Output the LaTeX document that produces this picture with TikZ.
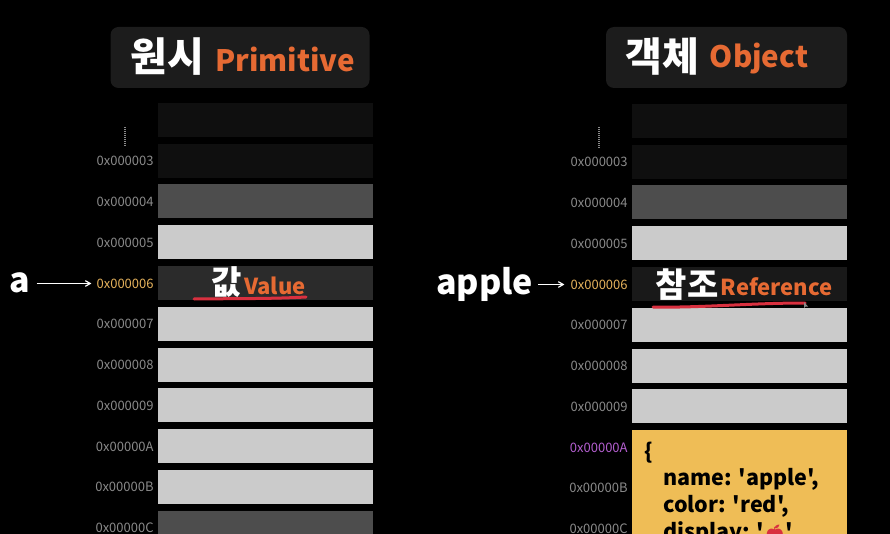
\documentclass[tikz,border=0pt]{standalone}
\usepackage{fontspec}
\setmainfont{Noto Sans CJK KR}
\newfontfamily\codefont{Noto Sans CJK KR}
\newfontfamily\emojifont{Noto Emoji}
\usepackage{tikz}
\usetikzlibrary{arrows,positioning}
\definecolor{bkg}{HTML}{000000}
\definecolor{titlebkg}{HTML}{1C1C1C}
\definecolor{cellnone}{HTML}{0F0F0F}
\definecolor{cellmid}{HTML}{4D4D4D}
\definecolor{cellfree}{HTML}{CBCBCB}
\definecolor{orangetxt}{HTML}{E66A33}
\definecolor{addrgrey}{HTML}{8A8A8A}
\definecolor{addrhot}{HTML}{E5B25C}
\definecolor{addrobj}{HTML}{B45FD0}
\definecolor{objbox}{HTML}{EFBD56}
\definecolor{penred}{HTML}{D9303F}
\newcommand{\fsz}[1]{\fontsize{#1}{#1}\selectfont}

\begin{document}
\begin{tikzpicture}[x=1pt,y=-1pt]
\tikzstyle{cell}=[minimum width=215pt,minimum height=34pt,inner sep=0pt,node distance=40.75pt]
\tikzstyle{addr}=[text=addrgrey,inner sep=0pt,yshift=-.5pt,font=\fsz{13}]
\tikzstyle{titlebox}=[fill=titlebkg,rounded corners=8pt,minimum height=61pt,inner sep=0pt]
\tikzstyle{bigtxt}=[text=white,inner sep=0pt,font=\bfseries\fsz{40}]
\tikzstyle{engtxt}=[text=orangetxt,inner sep=0pt,font=\bfseries\fsz{29.5}]
\tikzstyle{midtxt}=[text=white,inner sep=0pt,font=\bfseries\fsz{33}]
\tikzstyle{smalltxt}=[text=orangetxt,inner sep=0pt,font=\bfseries\fsz{22}]
\tikzstyle{varname}=[text=white,inner sep=0pt,font=\bfseries\fsz{34}]
\tikzstyle{arrow}=[white,line width=1.2pt,->,>=angle 60]
\tikzstyle{pen}=[penred,line width=3pt,line cap=round]
\tikzstyle{dots}=[addrgrey,line width=1.6pt,dash pattern=on 1pt off 1pt]
\fill [bkg] (0,0) rectangle (890,534);
\useasboundingbox (0,0) rectangle (890,534);
\clip (0,0) rectangle (890,534);
% left side
\node [titlebox,minimum width=259pt] at (240,57.5) (ltitle) {};
\node [bigtxt] at (167,57) (lkor) {원시};
\node [engtxt] at (285,59) (leng) {Primitive};
\node [cell,fill=cellnone] at (265.5,120) (l2) {};
\node [cell,fill=cellnone,below of=l2] (l3) {};
\node [cell,fill=cellmid,below of=l3] (l4) {};
\node [cell,fill=cellfree,below of=l4] (l5) {};
\node [cell,fill=black!83,below of=l5] (l6) {};
\node [cell,fill=cellfree,below of=l6] (l7) {};
\node [cell,fill=cellfree,below of=l7] (l8) {};
\node [cell,fill=cellfree,below of=l8] (l9) {};
\node [cell,fill=cellfree,below of=l9] (lA) {};
\node [cell,fill=cellfree,below of=lA] (lB) {};
\node [cell,fill=cellmid,below of=lB] (lC) {};
\draw [dots] (125,127) -- (125,147);
\node [addr,left=4pt of l3] {0x000003};
\node [addr,left=4pt of l4] {0x000004};
\node [addr,left=4pt of l5] {0x000005};
\node [addr,left=4pt of l6,text=addrhot] (laddr) {0x000006};
\node [addr,left=4pt of l7] {0x000007};
\node [addr,left=4pt of l8] {0x000008};
\node [addr,left=4pt of l9] {0x000009};
\node [addr,left=4pt of lA] {0x00000A};
\node [addr,left=4pt of lB] {0x00000B};
\node [addr,left=4pt of lC] {0x00000C};
\node [varname] at (20,283) (a) {a};
\draw [arrow,shorten <=6pt,shorten >=5pt] (a.east |- laddr.west) -- (laddr.west);
\node [midtxt] at (227,282) (val) {값};
\node [smalltxt] at (275,286) (valeng) {Value};
\draw [pen] (194,299) .. controls (230,298.5) and (270,299) .. (306,297);
% right side
\node [titlebox,minimum width=241pt] at (726.5,57.5) (rtitle) {};
\node [bigtxt] at (662,57) (rkor) {객체};
\node [engtxt] at (759,59) (reng) {Object};
\node [cell,fill=cellnone] at (739.5,121) (r2) {};
\node [cell,fill=cellnone,below of=r2] (r3) {};
\node [cell,fill=cellmid,below of=r3] (r4) {};
\node [cell,fill=cellfree,below of=r4] (r5) {};
\node [cell,fill=black!90,below of=r5] (r6) {};
\node [cell,fill=cellfree,below of=r6] (r7) {};
\node [cell,fill=cellfree,below of=r7] (r8) {};
\node [cell,fill=cellfree,below of=r8] (r9) {};
\node [cell,below of=r9] (rA) {};
\node [cell,below of=rA] (rB) {};
\node [cell,below of=rB] (rC) {};
\node [cell,fill=objbox,anchor=north,minimum height=110pt] at (rA.north) (robj) {};
\draw [dots] (599,127) -- (599,148);
\node [addr,left=4pt of r3] {0x000003};
\node [addr,left=4pt of r4] {0x000004};
\node [addr,left=4pt of r5] {0x000005};
\node [addr,left=4pt of r6,text=addrhot] (raddr) {0x000006};
\node [addr,left=4pt of r7] {0x000007};
\node [addr,left=4pt of r8] {0x000008};
\node [addr,left=4pt of r9] {0x000009};
\node [addr,left=4pt of rA,text=addrobj] {0x00000A};
\node [addr,left=4pt of rB] {0x00000B};
\node [addr,left=4pt of rC] {0x00000C};
\node [varname] at (484.5,284) (apple) {apple};
\draw [arrow,shorten <=5pt,shorten >=6pt] (apple.east |- raddr.west) -- (raddr.west);
\node [midtxt,font=\bfseries\fsz{34}] at (687,285) (ref) {참조};
\node [smalltxt] at (776.5,287) (refeng) {Reference};
\draw [pen] (653,307) .. controls (700,308) and (750,303) .. (805,303);
\fill [addrgrey] (804,302) -- (804,308) -- (805.5,306.5) -- (808,306.5) -- cycle;
\node [inner sep=0pt,anchor=north west,align=left,text=black,font=\codefont\bfseries\fsz{21.5},
  at={(644,442)}] (objtxt) {\{\\[4pt]
  \hspace{19pt}name: 'apple',\\[4pt]
  \hspace{19pt}color: 'red',\\[4pt]
  \hspace{19pt}display: '{\emojifont\fsz{17}\color{penred}🍎}'};
\end{tikzpicture}
\end{document}
